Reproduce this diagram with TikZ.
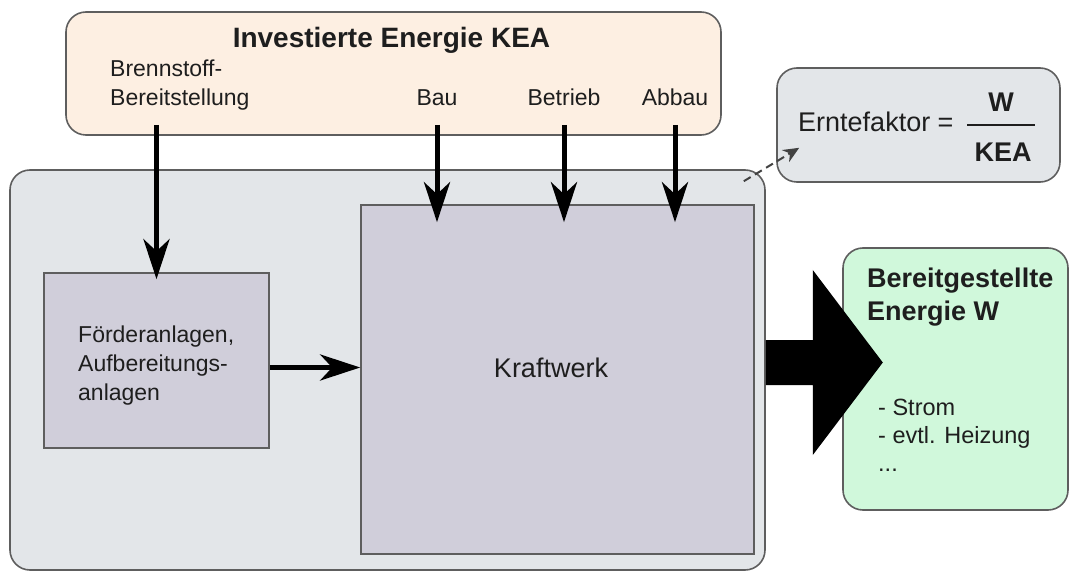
\documentclass[tikz,border=0pt]{standalone}
\usepackage{fontspec}
\setmainfont{Liberation Sans}
\usetikzlibrary{arrows.meta}

\definecolor{keapeach}{HTML}{FDEFE2}
\definecolor{sysgray}{HTML}{E3E6E9}
\definecolor{unitlilac}{HTML}{D0CEDA}
\definecolor{outgreen}{HTML}{D0F8DB}
\definecolor{rimgray}{HTML}{5E5E5E}
\definecolor{inkgray}{HTML}{1E1E1E}

\newcommand{\labelsize}{\fontsize{23}{29}\selectfont}
\newcommand{\headsize}{\fontsize{27}{33}\selectfont}

\begin{document}
\begin{tikzpicture}[x = 1pt, y = -1pt,
        panel/.style = {draw = rimgray, line width = 1.6pt, rounded corners = 20pt, inner sep = 0pt},
        unit/.style = {draw = rimgray, line width = 1.6pt, fill = unitlilac, inner sep = 0pt},
        txt/.style = {inner sep = 0pt, text = inkgray, font = \labelsize},
        head/.style = {inner sep = 0pt, text = inkgray, font = \headsize\bfseries},
        flow/.style = {line width = 5pt, -{Stealth[length = 40pt, width = 26pt, inset = 12pt]}},
        hint/.style = {draw = rimgray!70!black, line width = 2pt, dash pattern = on 8pt off 5pt,
            -{Stealth[length = 16pt, width = 14pt]}}
    ]
        \useasboundingbox (0, 0) rectangle (1069, 572);

        % Rounded panels.
        \node[panel, fill = keapeach, minimum width = 655pt, minimum height = 123pt] (kea) at (393.5, 73.5) {};
        \node[panel, fill = sysgray, minimum width = 755pt, minimum height = 400pt] (sys) at (387.5, 370) {};
        \node[panel, fill = sysgray, minimum width = 283pt, minimum height = 114pt] (ern) at (918.5, 125) {};
        \node[panel, fill = outgreen, minimum width = 225pt, minimum height = 262pt] (out) at (955.5, 379) {};

        % Plant units inside the system.
        \node[unit, minimum width = 225pt, minimum height = 175pt] (foerder) at (156.5, 360.5) {};
        \node[unit, minimum width = 393pt, minimum height = 349pt] (kraft) at (557.5, 379.5) {};

        % Labels of the invested energy (multi-line nodes sit on their last line).
        \node[head, font = \fontsize{28}{34}\selectfont\bfseries, anchor = base] (keatitle) at (391.5, 48) {Investierte Energie KEA};
        \node[txt, anchor = base west, align = left] (brenn) at (110, 106) {Brennstoff-\\Bereitstellung};
        \node[txt, anchor = base] (bau) at (437, 106) {Bau};
        \node[txt, anchor = base] (betrieb) at (564, 106) {Betrieb};
        \node[txt, anchor = base] (abbau) at (675, 106) {Abbau};

        % Labels of the units.
        \node[txt, anchor = base west, align = left] (foerdertext) at (78, 400) {Förderanlagen,\\Aufbereitungs-\\anlagen};
        \node[txt, font = \headsize, anchor = base] (krafttext) at (551, 377) {Kraftwerk};

        % Harvest factor as a fraction.
        \node[txt, font = \headsize, anchor = base west] (erntext) at (798, 132) {Erntefaktor =};
        \node[head, anchor = base] (fracw) at (1001, 112) {W};
        \node[head, anchor = base] (frackea) at (1003, 162) {KEA};
        \coordinate (barleft) at ([xshift = -7pt]frackea.west);
        \coordinate (barright) at ([xshift = 3pt]frackea.east);
        \draw[line width = 2pt, inkgray] (barleft |- ern.center) -- (barright |- ern.center);

        % Delivered energy.
        \node[head, anchor = base west, align = left] (outtitle) at (867, 320) {Bereitgestellte\\Energie W};
        \node[txt, font = \fontsize{23.5}{28}\selectfont, anchor = base west, align = left] (outlist) at (878, 471) {- Strom\\- evtl. Heizung\\...};

        % Energy input arrows.
        \coordinate (feed) at (0, 125);
        \draw[flow, shorten > = -7pt] (foerder |- feed) -- (foerder.north);
        \foreach \n in {bau, betrieb, abbau}
            \draw[flow, shorten > = -18pt] (\n |- feed) -- (\n |- kraft.north);

        \coordinate (handover) at ([yshift = -7pt]foerder.east);
        \draw[flow] (handover) -- (handover -| kraft.west);

        % Fat output arrow.
        \coordinate (fat) at ([yshift = 7.5pt]sys.east);
        \fill[black] (fat) ++(0, -22.5) -- ++(47, 0) -- ++(0, -70) -- ++(70, 92.5)
            -- ++(-70, 92.5) -- ++(0, -70) -- ++(-47, 0) -- cycle;

        % Dashed pointer to the harvest factor.
        \coordinate (hintfrom) at ([shift = {(-22, 12)}]sys.north east);
        \coordinate (hintto) at ([shift = {(23, -35)}]ern.south west);
        \draw[hint] (hintfrom) -- (hintto);
    \end{tikzpicture}
\end{document}
